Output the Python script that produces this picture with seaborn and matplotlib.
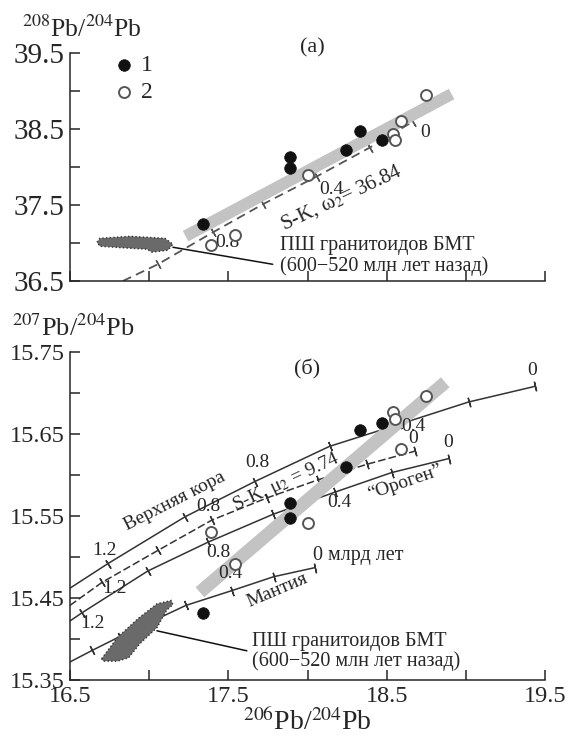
# Pb isotope diagrams (a) 208Pb/204Pb and (б) 207Pb/204Pb vs 206Pb/204Pb
import numpy as np
import matplotlib
matplotlib.use("Agg")
import matplotlib.pyplot as plt
import seaborn as sns

# --- data: samples (1 = filled, 2 = open) ---
pb206_filled = [18.33, 18.47, 18.24, 17.89, 17.89, 17.34]
pb208_filled = [38.47, 38.35, 38.23, 38.13, 37.99, 37.25]
pb207_filled = [15.655, 15.664, 15.610, 15.566, 15.547, 15.432]

pb206_open = [18.75, 18.59, 18.54, 18.55, 18.00, 17.54, 17.39]
pb208_open = [38.95, 38.61, 38.44, 38.36, 37.89, 37.10, 36.98]
pb207_open = [15.696, 15.632, 15.677, 15.668, 15.541, 15.491, 15.530]

# --- growth curves (first point = where the curve leaves the axis, rest are age ticks) ---
sk_a_206 = [16.834, 17.055, 17.402, 17.718, 18.058, 18.393, 18.664]
sk_a_208 = [36.50, 36.72, 37.14, 37.51, 37.875, 38.255, 38.596]

crust_206 = [16.50, 16.740, 17.226, 17.667, 18.140, 18.582, 19.017, 19.434]
crust_207 = [15.462, 15.492, 15.549, 15.592, 15.635, 15.662, 15.689, 15.708]

sk_b_206 = [16.50, 16.702, 17.055, 17.396, 17.743, 18.065, 18.374, 18.677]
sk_b_207 = [15.441, 15.469, 15.508, 15.545, 15.572, 15.594, 15.613, 15.629]

orogen_206 = [16.50, 16.576, 16.992, 17.371, 17.781, 18.172, 18.532, 18.892]
orogen_207 = [15.422, 15.432, 15.483, 15.518, 15.552, 15.579, 15.603, 15.620]

mantle_206 = [16.50, 16.639, 16.815, 17.232, 17.522, 17.787, 18.046]
mantle_207 = [15.372, 15.386, 15.403, 15.441, 15.459, 15.476, 15.487]

# --- regression bands ---
band_a_206 = [17.23, 18.91]
band_a_208 = [37.09, 38.96]
band_b_206 = [17.32, 18.87]
band_b_207 = [15.457, 15.713]

# --- granitoid field outlines ---
blob_a_206 = [16.670, 16.689, 16.879, 17.099, 17.150, 17.118, 17.017, 16.986, 16.879, 16.689]
blob_a_208 = [37.010, 37.062, 37.088, 37.062, 36.984, 36.905, 36.879, 36.918, 36.931, 36.957]
blob_b_206 = [16.70, 16.80, 16.93, 17.05, 17.14, 17.15, 17.11, 17.05, 16.94, 16.87, 16.80, 16.71]
blob_b_207 = [15.376, 15.402, 15.425, 15.443, 15.447, 15.442, 15.435, 15.414, 15.394, 15.377, 15.373, 15.373]

sns.set_style("ticks")
plt.rcParams["font.family"] = ["Liberation Serif", "DejaVu Serif"]
plt.rcParams["mathtext.fontset"] = "stix"

BAND = "#c3c3c3"
BLOB = "#6a6a6a"
LINE = "#333333"


def curve_ticks(ax, xs, ys, color=LINE, size=7):
    # small marks across the curve at each age point
    pts = ax.transData.transform(np.column_stack([xs, ys]))
    d = np.gradient(pts, axis=0)
    ang = np.degrees(np.arctan2(d[:, 1], d[:, 0]))
    for x, y, a in zip(xs[1:], ys[1:], ang[1:]):
        ax.plot(x, y, marker=(2, 2, a), ms=size, mec=color, mew=1.0, ls="none", zorder=2)


def samples(ax, y_filled, y_open):
    sns.scatterplot(x=pb206_filled, y=y_filled, ax=ax, color="#111111", s=70,
                    edgecolor="#111111", linewidth=0.5, zorder=5, label="1")
    sns.scatterplot(x=pb206_open, y=y_open, ax=ax, color="white", s=62,
                    edgecolor="#555555", linewidth=1.4, zorder=5, label="2")


def style_axes(ax, ylim, yticks, ylabels, xlabels, labelsize):
    ax.set_xlim(16.5, 19.5)
    ax.set_ylim(*ylim)
    ax.set_xticks(np.arange(16.5, 19.51, 0.5))
    ax.set_xticklabels(xlabels)
    ax.set_yticks(yticks)
    ax.set_yticklabels(ylabels)
    ax.tick_params(direction="in", length=7, width=1.1, labelsize=labelsize, pad=4)
    for s in ["top", "right"]:
        ax.spines[s].set_visible(False)
    for s in ["left", "bottom"]:
        ax.spines[s].set_linewidth(1.1)


fig = plt.figure(figsize=(5.68, 7.36), dpi=100)
ax1 = fig.add_axes([70 / 568, 1 - 281 / 736, 475 / 568, 228 / 736])
ax2 = fig.add_axes([70 / 568, 1 - 680 / 736, 475 / 568, 328 / 736])

# ================= (а) =================
style_axes(ax1, (36.5, 39.5), np.arange(36.5, 39.51, 0.5),
           ["36.5", "", "37.5", "", "38.5", "", "39.5"], [""] * 7, 21)

sns.lineplot(x=sk_a_206, y=sk_a_208, ax=ax1, sort=False, estimator=None,
             color="#555555", linewidth=1.3, linestyle=(0, (5, 3)), zorder=2)
curve_ticks(ax1, sk_a_206, sk_a_208, color="#555555")
ax1.plot(band_a_206, band_a_208, color=BAND, lw=8.5, solid_capstyle="butt", zorder=3)
ax1.fill(blob_a_206, blob_a_208, facecolor=BLOB, edgecolor="#333333",
         linestyle=":", linewidth=1.0, zorder=4)
samples(ax1, pb208_filled, pb208_open)

ax1.plot([17.15, 17.78], [36.944, 36.72], color="#111111", lw=1.1, zorder=4)
ax1.text(17.825, 36.97, "ПШ гранитоидов БМТ", fontsize=14.5, va="center")
ax1.text(17.825, 36.695, "(600−520 млн лет назад)", fontsize=14.5, va="center")
ax1.text(18.216, 37.60, r"S-K, ω$_2$= 36.84", fontsize=15, rotation=25,
         rotation_mode="anchor", ha="center", va="center")
ax1.text(18.153, 37.70, "0.4", fontsize=14, ha="center", va="center")
ax1.text(18.74, 38.45, "0", fontsize=14, ha="center", va="center")
ax1.text(17.497, 37.01, "0.8", fontsize=14, ha="center", va="center")
ax1.text(18.03, 39.57, "(а)", fontsize=16, ha="center", va="center")

ax1.legend(loc="upper left", bbox_to_anchor=(0.065, 1.035), frameon=False,
           fontsize=17, handletextpad=0.1, labelspacing=0.25, borderaxespad=0,
           markerscale=1.0, handlelength=1.2)

ax1.set_ylabel(r"$^{208}$Pb/$^{204}$Pb", fontsize=18.5, rotation=0, ha="left", va="center")
ax1.yaxis.set_label_coords(-0.101, 1.105)

# ================= (б) =================
style_axes(ax2, (15.35, 15.75), np.arange(15.35, 15.751, 0.05),
           ["15.35", "", "15.45", "", "15.55", "", "15.65", "", "15.75"],
           ["16.5", "", "17.5", "", "18.5", "", "19.5"], 17.5)

for xs, ys, ls in [(crust_206, crust_207, "-"), (sk_b_206, sk_b_207, (0, (5, 2))),
                   (orogen_206, orogen_207, "-"), (mantle_206, mantle_207, "-")]:
    sns.lineplot(x=xs, y=ys, ax=ax2, sort=False, estimator=None,
                 color=LINE, linewidth=1.1, linestyle=ls, zorder=2)
    curve_ticks(ax2, xs, ys)

ax2.plot(band_b_206, band_b_207, color=BAND, lw=9.5, solid_capstyle="butt", zorder=3)
ax2.fill(blob_b_206, blob_b_207, facecolor=BLOB, edgecolor="#333333",
         linestyle=":", linewidth=1.0, zorder=4)
samples(ax2, pb207_filled, pb207_open)
ax2.get_legend().remove()

ax2.plot([17.049, 17.617], [15.41, 15.3856], color="#111111", lw=1.1, zorder=4)
ax2.text(17.648, 15.3966, "ПШ гранитоидов БМТ", fontsize=14.5, va="center")
ax2.text(17.648, 15.3733, "(600−520 млн лет назад)", fontsize=14.5, va="center")
ax2.text(17.995, 15.729, "(б)", fontsize=16, ha="center", va="center")

rot_labels = [
    (17.162, 15.5685, "Верхняя кора", 27),
    (17.869, 15.5916, r"S-K, μ$_2$ = 9.74", 25),
    (18.614, 15.5905, "“Ороген”", 19),
    (17.806, 15.459, "Мантия", 23),
]
for x, y, t, r in rot_labels:
    ax2.text(x, y, t, fontsize=14, rotation=r, rotation_mode="anchor",
             ha="center", va="center")

age_labels = [
    (16.72, 15.508, "1.2"), (17.686, 15.615, "0.8"), (18.67, 15.659, "0.4"), (19.42, 15.727, "0"),
    (16.784, 15.462, "1.2"), (17.377, 15.561, "0.8"), (18.664, 15.644, "0"),
    (16.639, 15.419, "1.2"), (17.434, 15.506, "0.8"), (18.203, 15.566, "0.4"), (18.885, 15.640, "0"),
    (17.516, 15.480, "0.4"),
]
for x, y, t in age_labels:
    ax2.text(x, y, t, fontsize=14, ha="center", va="center")
ax2.text(18.033, 15.502, "0 млрд лет", fontsize=14.5, ha="left", va="center")

ax2.set_ylabel(r"$^{207}$Pb/$^{204}$Pb", fontsize=19, rotation=0, ha="left", va="center")
ax2.yaxis.set_label_coords(-0.122, 1.072)
ax2.set_xlabel(r"$^{206}$Pb/$^{204}$Pb", fontsize=20, labelpad=1)

fig.savefig("out.png", dpi=100)
